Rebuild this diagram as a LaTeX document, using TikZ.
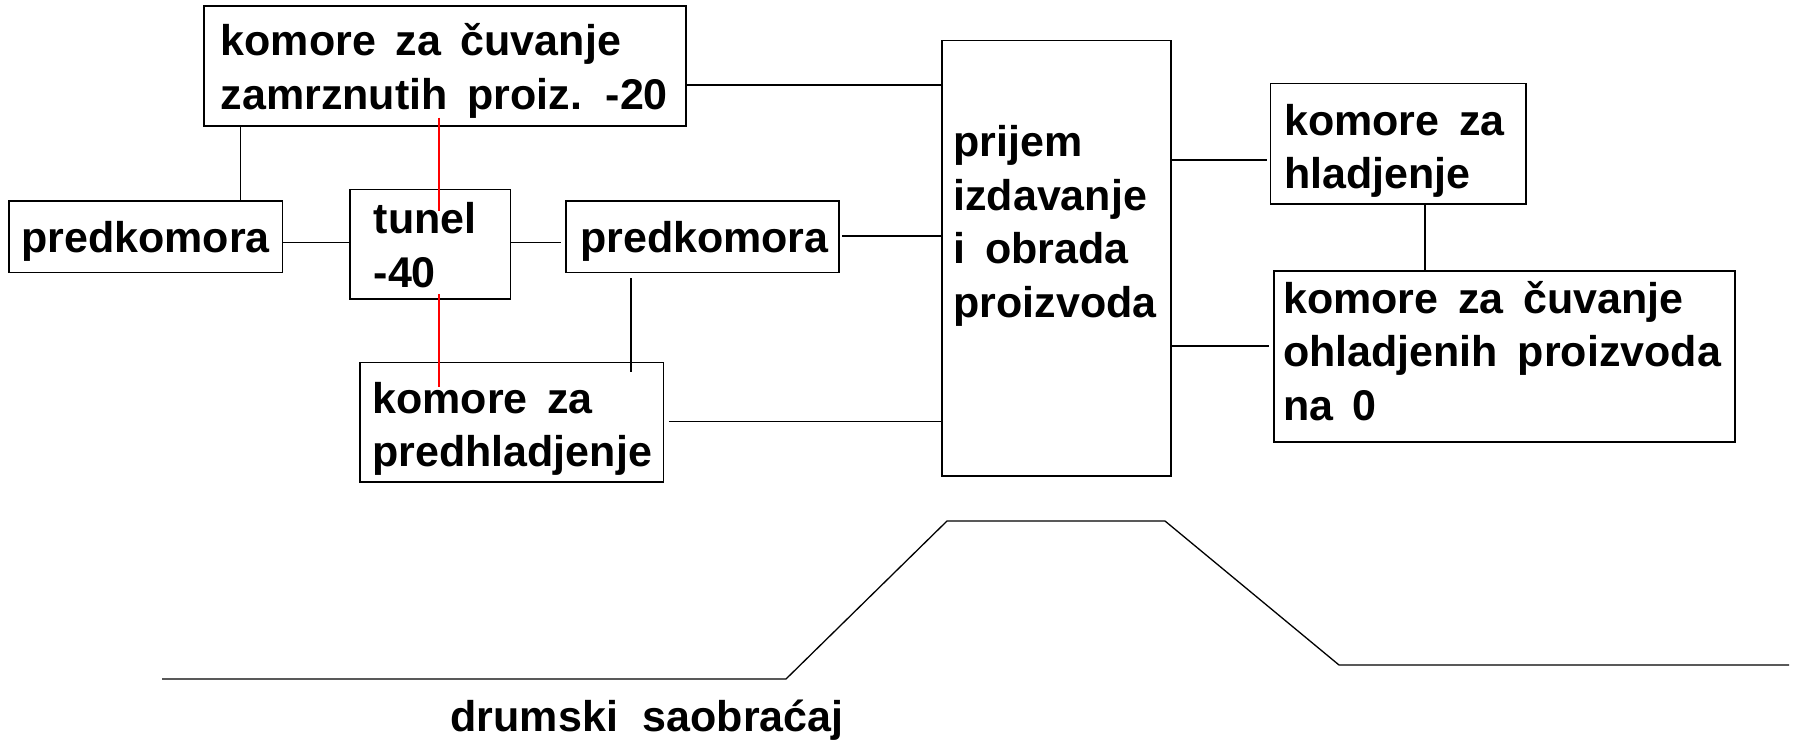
\documentclass[tikz,border=0pt]{standalone}
\usepackage{fontspec}
\setmainfont{Liberation Sans}[WordSpace=1.65]
\usetikzlibrary{fit}
\newcommand\txtrows[1]{\begin{tabular}[t]{@{}l@{}}#1\end{tabular}}
\tikzset{
  box/.style={draw, line width=0.65pt, inner sep=0pt, fit={#1}},
  txt/.style={anchor=base west, inner sep=0pt,
    font=\bfseries\fontsize{21.5}{26.75}\selectfont},
  wire/.style={line width=0.65pt},
  redwire/.style={line width=0.8pt, red},
}
\begin{document}
\begin{tikzpicture}[x=0.5pt, y=-0.5pt]
\useasboundingbox (0,0) rectangle (1800,744);

% boxes
\node[box={(204,6) (686,126)}]      (top)    {};
\node[box={(9,201) (282.5,272.5)}]  (lpk)    {};
\node[box={(350,189.5) (510.5,299)}] (tunel) {};
\node[box={(566,201) (839,272.5)}]  (mpk)    {};
\node[box={(360,362.5) (663.5,482)}] (phl)   {};
\node[box={(942,40.5) (1171,476)}]  (prijem) {};
\node[box={(1270.5,83.5) (1526,204)}] (hl)   {};
\node[box={(1274,271) (1735,442)}]  (ohl)    {};

% labels
\node[txt] (top-t)    at (220.3,55.5) {\txtrows{komore za čuvanje\\zamrznutih proiz. -20}};
\node[txt] (lpk-t)    at (21,252.7)   {predkomora};
\node[txt] (tunel-t)  at (373.3,233.5){\txtrows{tunel\\-40}};
\node[txt] (mpk-t)    at (579.7,252.7){predkomora};
\node[txt] (phl-t)    at (372,413)    {\txtrows{komore za\\predhladjenje}};
\node[txt] (prijem-t) at (953,156.8)  {\txtrows{prijem\\izdavanje\\i obrada\\proizvoda}};
\node[txt] (hl-t)     at (1283.7,135) {\txtrows{komore za\\hladjenje}};
\node[txt] (ohl-t)    at (1282.7,313) {\txtrows{komore za čuvanje\\ohladjenih proizvoda\\na 0}};
\node[txt] (road-t)   at (450.3,731)  {drumski\hspace{0.12em} saobraćaj};

% connector levels
\coordinate (h85)  at (0,85);
\coordinate (h160) at (0,160);
\coordinate (h236) at (0,236);
\coordinate (h243) at (0,242.7);
\coordinate (h346) at (0,346);
\coordinate (h422) at (0,421.7);
\coordinate (v241) at (240.7,0);
\coordinate (v439) at (438.7,0);
\coordinate (v631) at (631,0);
\coordinate (v1425) at (1425,0);

% connectors
\draw[wire] (top.east |- h85) -- (prijem.west |- h85);
\draw[wire] (top.south -| v241) -- (lpk.north -| v241);
\draw[wire] (lpk.east |- h243) -- (tunel.west |- h243);
\draw[wire, shorten >=2pt] (tunel.east |- h243) -- (mpk.west |- h243);
\draw[wire, shorten <=1.4pt] (mpk.east |- h236) -- (prijem.west |- h236);
\draw[wire, shorten <=2.3pt] (phl.east |- h422) -- (prijem.west |- h422);
\draw[wire, shorten >=1.2pt] (prijem.east |- h160) -- (hl.west |- h160);
\draw[wire, shorten >=2pt] (prijem.east |- h346) -- (ohl.west |- h346);
\draw[wire] (hl.south -| v1425) -- (ohl.north -| v1425);
\draw[wire, shorten <=2.5pt, shorten >=-5pt] (mpk.south -| v631) -- (phl.north -| v631);
\draw[redwire, shorten <=-4.5pt, shorten >=-11.2pt] (top.south -| v439) -- (tunel.north -| v439);
\draw[redwire, shorten <=-2.85pt, shorten >=-12.7pt] (tunel.south -| v439) -- (phl.north -| v439);

% road profile
\draw[wire] (162,679) -- (786,679) -- (947,521) -- (1165,521) -- (1339,665) -- (1789,665);
\end{tikzpicture}
\end{document}
